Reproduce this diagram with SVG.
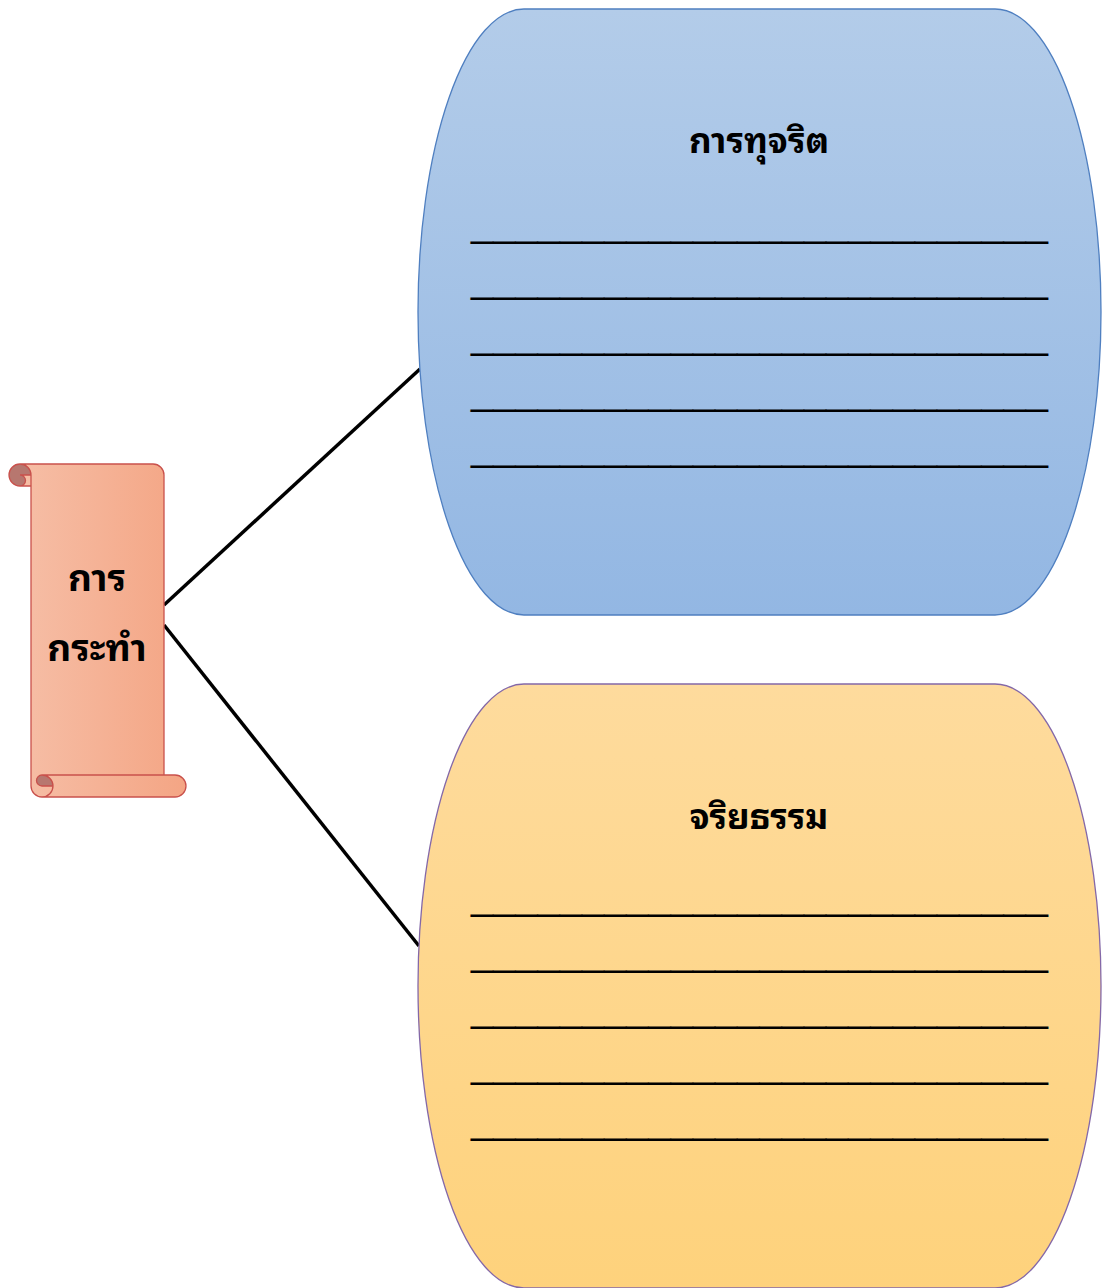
<svg xmlns="http://www.w3.org/2000/svg" width="1105" height="1288" viewBox="0 0 1105 1288">
<defs>
<linearGradient id="gBlue" x1="0" y1="0" x2="0" y2="1"><stop offset="0" stop-color="#B3CCE9"/><stop offset="1" stop-color="#93B7E3"/></linearGradient>
<linearGradient id="gYellow" x1="0" y1="0" x2="0" y2="1"><stop offset="0" stop-color="#FEDB9D"/><stop offset="1" stop-color="#FED27C"/></linearGradient>
<linearGradient id="gScroll" x1="0" y1="0" x2="1" y2="0"><stop offset="0" stop-color="#F6BEA6"/><stop offset="1" stop-color="#F4A584"/></linearGradient>
<style>
.th{font-family:"Noto Sans Thai Looped","Loma","Garuda","Tahoma","Noto Sans Thai","Leelawadee UI","Noto Sans","DejaVu Sans",sans-serif;font-weight:bold;fill:#000;text-anchor:middle}
.ul{font-family:"Liberation Sans",Arial,sans-serif;font-size:40px;fill:#000}
.conn{stroke:#000;stroke-width:3.5;fill:none}
</style>
</defs>
<g id="connectors">
<line class="conn" x1="164" y1="605" x2="420" y2="369"/>
<line class="conn" x1="164" y1="625" x2="419" y2="946"/>
</g>
<g id="node-action">
<g transform="translate(9,797) scale(1,-1)">
<path fill="url(#gScroll)" d="M11,333 A11,11 0 0 0 22,322 L11,322 A5.5,5.5 0 0 0 11,311 L22,311 L22,11 A11,11 0 0 1 33,0 L166,0 A11,11 0 0 1 166,22 L155,22 L155,322 A11,11 0 0 1 144,333 Z"/>
<path fill="#B7776F" d="M44,11 A11,11 0 0 1 33,22 A5.5,5.5 0 0 1 33,11 Z M22,322 A11,11 0 1 1 11,311 A5.5,5.5 0 0 1 11,322 Z"/>
<path fill="none" stroke="#C9514C" stroke-width="1.3" d="M22,311 L22,11 A11,11 0 0 1 33,0 L166,0 A11,11 0 0 1 166,22 L155,22 L155,322 A11,11 0 0 1 144,333 L11,333 A11,11 0 0 1 11,311 Z M33,0 A11,11 0 0 1 33,22 A5.5,5.5 0 0 1 33,11 L44,11 M155,22 L33,22 M11,311 A5.5,5.5 0 0 1 11,322 L22,322 M11,333 A11,11 0 0 0 22,322 L22,311"/>
</g>
<text class="th" x="97" y="591" font-size="37">การ</text>
<text class="th" x="97" y="661" font-size="37">กระทำ</text>
</g>
<g id="node-corruption">
<rect x="418" y="9" width="683" height="606" rx="106" ry="303" fill="url(#gBlue)" stroke="#4F7FC0" stroke-width="1.3"/>
<text class="th" x="759" y="153" font-size="35">การทุจริต</text>
<text class="ul" x="471" y="236" textLength="577" lengthAdjust="spacingAndGlyphs">__________________________</text>
<text class="ul" x="471" y="292" textLength="577" lengthAdjust="spacingAndGlyphs">__________________________</text>
<text class="ul" x="471" y="348" textLength="577" lengthAdjust="spacingAndGlyphs">__________________________</text>
<text class="ul" x="471" y="404" textLength="577" lengthAdjust="spacingAndGlyphs">__________________________</text>
<text class="ul" x="471" y="460" textLength="577" lengthAdjust="spacingAndGlyphs">__________________________</text>
</g>
<g id="node-ethics">
<rect x="418" y="684" width="683" height="604" rx="106" ry="302" fill="url(#gYellow)" stroke="#8468A8" stroke-width="1.3"/>
<text class="th" x="759" y="829" font-size="35">จริยธรรม</text>
<text class="ul" x="471" y="909" textLength="577" lengthAdjust="spacingAndGlyphs">__________________________</text>
<text class="ul" x="471" y="965" textLength="577" lengthAdjust="spacingAndGlyphs">__________________________</text>
<text class="ul" x="471" y="1021" textLength="577" lengthAdjust="spacingAndGlyphs">__________________________</text>
<text class="ul" x="471" y="1077" textLength="577" lengthAdjust="spacingAndGlyphs">__________________________</text>
<text class="ul" x="471" y="1133" textLength="577" lengthAdjust="spacingAndGlyphs">__________________________</text>
</g>
</svg>
